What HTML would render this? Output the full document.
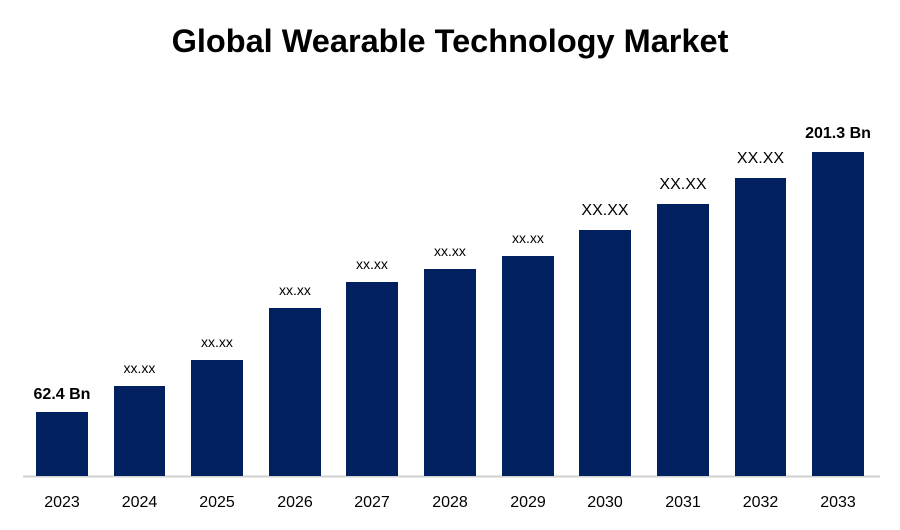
<!DOCTYPE html>
<html><head><style>
body{margin:0;width:900px;height:525px;background:#fff;overflow:hidden;font-family:"Liberation Sans",Calibri,sans-serif}
</style></head><body>
<svg width="900" height="525" xmlns="http://www.w3.org/2000/svg" font-family="Liberation Sans, sans-serif">
<text x="450" y="52" text-anchor="middle" font-size="32.5" font-weight="bold" fill="#000">Global Wearable Technology Market</text>
<line x1="23" y1="476.5" x2="880" y2="476.5" stroke="#d0d0d0" stroke-width="2"/>
<g fill="#002060">
<rect x="36" y="412" width="52" height="64"/>
<rect x="114" y="386" width="51" height="90"/>
<rect x="191" y="360" width="52" height="116"/>
<rect x="269" y="308" width="52" height="168"/>
<rect x="346" y="282" width="52" height="194"/>
<rect x="424" y="269" width="52" height="207"/>
<rect x="502" y="256" width="52" height="220"/>
<rect x="579" y="230" width="52" height="246"/>
<rect x="657" y="204" width="52" height="272"/>
<rect x="735" y="178" width="51" height="298"/>
<rect x="812" y="152" width="52" height="324"/>
</g>
<g text-anchor="middle" font-size="14" fill="#000">
<text x="62" y="399" font-weight="bold" font-size="16">62.4 Bn</text>
<text x="139.5" y="373">xx.xx</text>
<text x="217" y="347">xx.xx</text>
<text x="295" y="295">xx.xx</text>
<text x="372" y="269">xx.xx</text>
<text x="450" y="256">xx.xx</text>
<text x="528" y="243">xx.xx</text>
<text x="605" y="215" font-size="16">XX.XX</text>
<text x="683" y="189" font-size="16">XX.XX</text>
<text x="760.5" y="163" font-size="16">XX.XX</text>
<text x="838" y="138" font-weight="bold" font-size="16">201.3 Bn</text>
</g>
<g text-anchor="middle" font-size="16" fill="#000">
<text x="62" y="507">2023</text>
<text x="139.5" y="507">2024</text>
<text x="217" y="507">2025</text>
<text x="295" y="507">2026</text>
<text x="372" y="507">2027</text>
<text x="450" y="507">2028</text>
<text x="528" y="507">2029</text>
<text x="605" y="507">2030</text>
<text x="683" y="507">2031</text>
<text x="760.5" y="507">2032</text>
<text x="838" y="507">2033</text>
</g>
</svg>
</body></html>
